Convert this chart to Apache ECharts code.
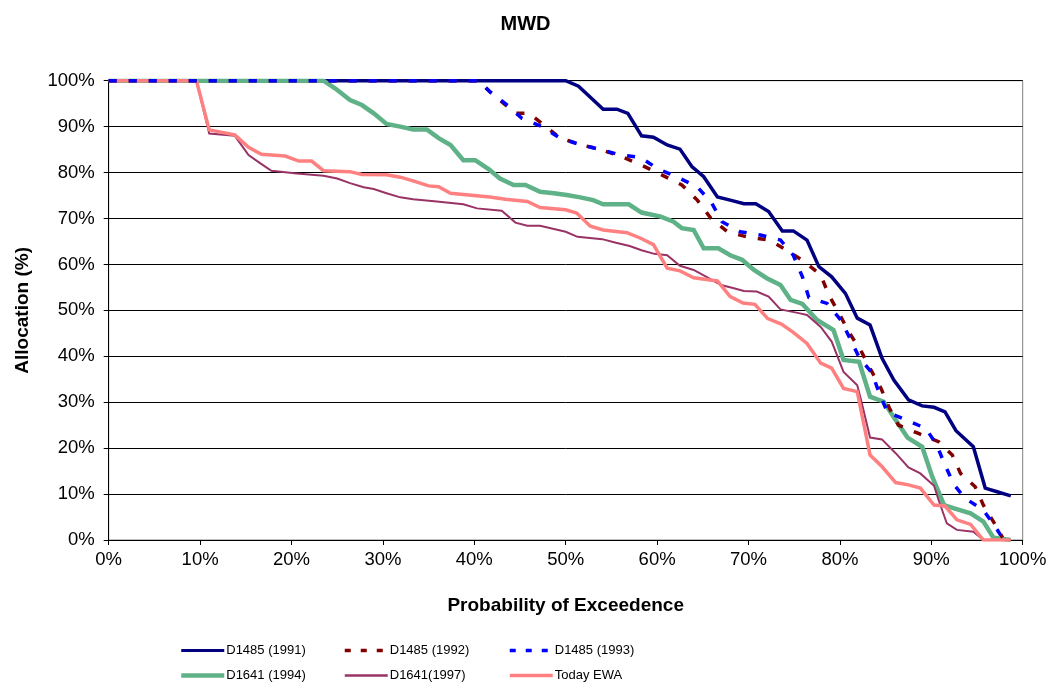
<!DOCTYPE html>
<html>
<head>
<meta charset="utf-8">
<script src="https://cdn.jsdelivr.net/npm/echarts@6/dist/echarts.min.js"></script>
<style>
html,body{margin:0;padding:0;background:#fff;}
#chart{width:1051px;height:690px;}
</style>
</head>
<body>
<div id="chart"></div>
<script>
// Tick values (percent)
const xTicks = [0,10,20,30,40,50,60,70,80,90,100];
const yTicks = [0,10,20,30,40,50,60,70,80,90,100];
const seriesNames = ['D1485 (1991)','D1485 (1992)','D1485 (1993)','D1641 (1994)','D1641(1997)','Today EWA'];

// [probability of exceedence %, allocation %]
const d1485_1991 = [[0,100],[50,100],[51.4,98.8],[52.9,96],[54.1,93.8],[55.6,93.8],[56.8,92.9],[58.3,88],[59.6,87.7],[61.1,86],[62.5,85.1],[63.8,81.3],[65.1,79.1],[66.6,74.7],[68,74],[69.5,73.2],[70.8,73.2],[72.2,71.5],[73.7,67.3],[74.9,67.3],[76.4,65.3],[77.7,59.5],[79.1,57.3],[80.6,53.7],[81.9,48.3],[83.3,46.8],[84.6,39.6],[85.9,34.8],[87.5,30.5],[89,29.2],[90.3,28.9],[91.5,27.9],[92.7,23.8],[94.6,20.3],[95.9,11.3],[97.2,10.5],[98.7,9.6]];
const d1485_1992 = [[0,100],[40.5,100],[41.7,97.6],[43.3,94.9],[44.6,92.9],[46,92.9],[47.4,90.7],[49.4,87.5],[51.4,86.2],[53.8,85],[56,83.6],[58.3,81.6],[60.5,79.5],[62.7,77.3],[64.4,74],[65.9,70],[67.7,67.1],[69.8,66],[72.3,65.3],[74.2,63.1],[76.1,60.6],[77.9,57.7],[78.8,53.3],[80,49],[81,45.2],[82.3,41.2],[83.4,37],[84.5,33],[85.4,28.8],[86.4,25],[88.6,23.2],[90.8,21.4],[92.3,18.5],[93.2,14.5],[94.8,11.6],[95.7,7.6],[97,3.3],[97.8,0.5]];
const d1485_1993 = [[0,100],[40.5,100],[41.7,97.6],[43.6,94.7],[45.2,91.8],[47.4,90],[49.4,87.5],[51.4,86.2],[53.8,85],[56,83.8],[58.2,83.3],[60,80.9],[62.2,79],[64.4,76.9],[66,73.3],[67.1,69.3],[69.1,67.1],[71.3,66.4],[73.5,65.3],[74.9,62],[75.9,57.3],[76.6,52.8],[78.6,51.5],[80.1,47.9],[81.1,43.9],[82.1,39.8],[83.5,36.4],[84.3,32],[85.2,27.8],[87.3,26.1],[89.4,24.3],[90.6,20.7],[91.5,16.3],[92.5,12],[93.7,9.1],[95.7,6.5],[97,2.9],[97.6,1]];
const d1641_1994 = [[0,100],[23.5,100],[24.8,98.3],[26.4,95.8],[27.7,94.7],[29,92.9],[30.4,90.6],[31.9,90],[33.3,89.4],[34.8,89.4],[36.1,87.5],[37.4,86],[38.8,82.7],[40.1,82.7],[41.6,80.7],[42.8,78.7],[44.3,77.3],[45.6,77.3],[47.2,75.8],[48.7,75.5],[50.1,75.1],[51.6,74.6],[53,74],[54.1,73.1],[56.9,73.1],[58.3,71.3],[60.4,70.4],[61.8,69.3],[62.7,67.9],[64,67.5],[65.1,63.5],[66.7,63.5],[68,62],[69.3,61],[70.6,58.8],[72,57],[73.5,55.5],[74.6,52.3],[75.9,51.4],[77.5,47.9],[79.3,45.7],[80.4,39.2],[82.1,38.8],[83.3,31.2],[84.8,30.1],[86.1,26.1],[87.4,22.3],[89,20.3],[90.1,13.8],[91.4,7.6],[92.5,6.9],[94.3,5.8],[95.7,4],[96.8,0.5],[98.7,0]];
const d1641_1997 = [[0,100],[9.6,100],[11,88.5],[13.8,88],[15.3,83.8],[16.6,82],[17.8,80.4],[20.6,79.8],[23.5,79.3],[25,78.7],[26.4,77.7],[27.9,76.8],[29,76.4],[30.4,75.5],[31.9,74.6],[33.3,74.2],[35.9,73.7],[38.8,73.1],[40.3,72.2],[43,71.7],[44.5,69.1],[45.8,68.4],[47.2,68.4],[50,67.1],[51.3,66],[54,65.5],[55.5,64.7],[57,64],[58.3,63.1],[59.7,62.3],[61.1,62],[62.5,59.7],[64,58.8],[65.5,57.2],[67,55.5],[68.4,54.8],[69.5,54.2],[70.9,54.1],[72.2,53],[73.5,50.2],[75.5,49.4],[76.4,49],[77.9,46.4],[79.1,43.2],[80.4,36.6],[81.9,33.7],[82.4,29.8],[83.3,22.3],[84.6,21.9],[86.1,18.9],[87.5,15.8],[88.8,14.5],[90.3,11.8],[90.8,8.7],[91.7,3.6],[92.8,2.2],[94.6,1.8],[95.7,0],[98.7,0]];
const todayEWA = [[0,100],[9.6,100],[11,89.3],[13.8,88.2],[15.3,85.5],[16.7,84],[19.3,83.6],[20.8,82.5],[22.2,82.5],[23.5,80.4],[26.4,80.2],[27.7,79.6],[30.4,79.5],[31.9,79],[33.3,78.2],[35,77.1],[36.1,76.9],[37.4,75.5],[41.7,74.7],[43.4,74.2],[45.8,73.7],[47.2,72.4],[50,71.9],[51.2,71.2],[52.7,68.3],[54.1,67.5],[56.7,66.9],[58.2,65.7],[59.6,64.3],[61.1,59.2],[62.5,58.6],[64,57.1],[66.6,56.4],[68,53],[69.4,51.6],[70.7,51.3],[72.1,48.2],[73.6,47],[74.9,45.2],[76.4,42.8],[77.9,38.5],[79.1,37.4],[80.4,33],[81.9,32.3],[83.3,18.5],[84.6,16],[86.1,12.5],[87.5,12],[88.8,11.3],[90.3,7.6],[91.5,7.4],[92.8,4.4],[94.3,3.4],[95.7,0],[98.7,0]];

const seriesData = [d1485_1991, d1485_1992, d1485_1993, d1641_1994, d1641_1997, todayEWA];
const styles = [
  {color:'#000080', width:3.5, type:'solid', z:2},
  {color:'#800000', width:3.5, type:[8,12], z:4},
  {color:'#0000FF', width:3.5, type:[8,12], z:5},
  {color:'#5FB287', width:4.5, type:'solid', z:2},
  {color:'#993366', width:2, type:'solid', z:2},
  {color:'#FF8080', width:3.5, type:'solid', z:3}
];
const legendLine = [
  {width:3, type:'solid'},
  {width:3.5, type:[6,10]},
  {width:3.5, type:[6,10]},
  {width:4.5, type:'solid'},
  {width:2.5, type:'solid'},
  {width:3.5, type:'solid'}
];

const FONT = 'Arial, "Liberation Sans", sans-serif';
const chart = echarts.init(document.getElementById('chart'), null, {renderer:'canvas'});

function legendItem(i){
  return {name:seriesNames[i], lineStyle:{color:styles[i].color, width:legendLine[i].width, type:legendLine[i].type}};
}
const legendCommon = {
  orient:'vertical', top:644, padding:0, itemWidth:43, itemHeight:14, itemGap:12,
  itemStyle:{opacity:0},
  textStyle:{fontFamily:FONT, fontSize:13, color:'#000', padding:[0,0,0,-3]},
  selectedMode:false
};

chart.setOption({
  animation:false,
  backgroundColor:'#fff',
  title:{text:'MWD', left:'center', top:9, textStyle:{fontFamily:FONT, fontSize:20, fontWeight:'bold', color:'#000'}},
  grid:{left:108.7, right:28.3, top:80.7, bottom:150, show:true, borderColor:'#808080', borderWidth:1},
  legend:[
    Object.assign({left:179, data:[legendItem(0), legendItem(3)]}, legendCommon),
    Object.assign({left:343, data:[legendItem(1), legendItem(4)]}, legendCommon),
    Object.assign({left:508, data:[legendItem(2), legendItem(5)]}, legendCommon)
  ],
  xAxis:{
    type:'value', min:xTicks[0], max:xTicks[xTicks.length-1], interval:10,
    name:'Probability of Exceedence', nameLocation:'middle', nameGap:56,
    nameTextStyle:{fontFamily:FONT, fontSize:19, fontWeight:'bold', color:'#000'},
    axisLine:{show:true, onZero:false, lineStyle:{color:'#000', width:1}},
    axisTick:{show:true, length:5, lineStyle:{color:'#000'}},
    axisLabel:{formatter:'{value}%', fontFamily:FONT, fontSize:18.5, color:'#000', margin:10},
    splitLine:{show:false}
  },
  yAxis:{
    type:'value', min:yTicks[0], max:yTicks[yTicks.length-1], interval:10,
    name:'Allocation (%)', nameLocation:'middle', nameGap:76,
    nameTextStyle:{fontFamily:FONT, fontSize:19, fontWeight:'bold', color:'#000'},
    axisLine:{show:true, lineStyle:{color:'#000', width:1}},
    axisTick:{show:true, length:5, lineStyle:{color:'#000'}},
    axisLabel:{formatter:'{value}%', fontFamily:FONT, fontSize:18.5, color:'#000', margin:14},
    splitLine:{show:true, lineStyle:{color:'#000', width:1}}
  },
  series: seriesData.map((d,i)=>({
    name:seriesNames[i], type:'line', data:d, symbol:'none', showSymbol:false,
    lineStyle:{color:styles[i].color, width:styles[i].width, type:styles[i].type, cap:'butt', join:'miter'},
    itemStyle:{color:styles[i].color},
    z: styles[i].z
  }))
});
</script>
</body>
</html>
